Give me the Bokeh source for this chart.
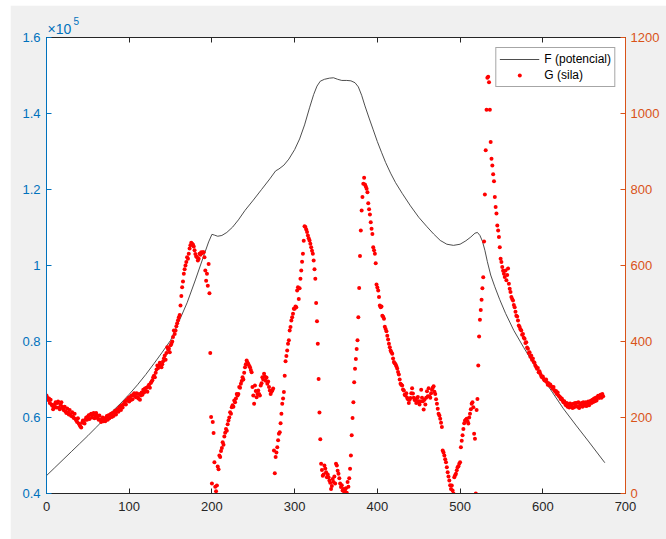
from bokeh.plotting import figure
from bokeh.models import (Range1d, LinearAxis, FixedTicker, CustomJSTickFormatter,
                          Title, Legend, LegendItem)
from bokeh.embed import file_html
from bokeh.resources import INLINE

# ---- data -------------------------------------------------------------
# F (potencial), sampled along the path; values in units of 1e5
f_x = [0, 10, 20, 30, 40, 50, 60, 70, 80, 90, 100, 110, 120, 130, 140, 150,
       160, 170, 180, 190, 196, 200, 203, 207, 212, 218, 225, 232, 240, 250,
       260, 270, 277, 281, 287, 293, 300, 306, 312, 318, 323, 327, 331, 336,
       342, 347, 352, 357, 363, 368, 373, 377, 381, 385, 390, 395, 400, 405,
       410, 416, 422, 430, 440, 450, 460, 468, 476, 484, 492, 500, 507, 513,
       518, 521, 524, 527, 530, 533, 537, 542, 548, 555, 565, 577, 589, 600,
       612, 625, 640, 655, 675]
f_potencial = [0.447, 0.468, 0.489, 0.510, 0.531, 0.552, 0.574, 0.596, 0.617,
               0.638, 0.661, 0.686, 0.713, 0.742, 0.772, 0.803, 0.852, 0.902,
               0.962, 1.025, 1.062, 1.082, 1.080, 1.077, 1.079, 1.087, 1.101,
               1.120, 1.145, 1.172, 1.200, 1.228, 1.249, 1.254, 1.264, 1.280,
               1.305, 1.333, 1.370, 1.415, 1.450, 1.472, 1.485, 1.490, 1.493,
               1.494, 1.490, 1.487, 1.487, 1.486, 1.481, 1.470, 1.448, 1.420,
               1.388, 1.357, 1.326, 1.298, 1.271, 1.243, 1.218, 1.190, 1.157,
               1.127, 1.102, 1.083, 1.066, 1.056, 1.053, 1.056, 1.065, 1.075,
               1.085, 1.087, 1.079, 1.064, 1.040, 1.010, 0.975, 0.944, 0.910,
               0.874, 0.829, 0.784, 0.741, 0.704, 0.665, 0.623, 0.580, 0.538,
               0.481]

# G (sila), one sample per step
g_sila = [
    258, 252, 246, 250, 238, 247, 234, 231, 222, 226,
    234, 240, 226, 238, 242, 226, 222, 234, 240, 228,
    224, 219, 228, 216, 212, 224, 214, 208, 220, 207,
    204, 214, 202, 199, 210, 196, 192, 188, 198, 184,
    180, 176, 174, 186, 192, 187, 184, 194, 200, 194,
    202, 206, 196, 207, 210, 200, 208, 212, 198, 204,
    212, 206, 198, 194, 205, 195, 188, 196, 200, 190,
    196, 190, 200, 204, 194, 206, 198, 207, 210, 201,
    212, 204, 214, 218, 208, 216, 222, 215, 226, 228,
    220, 232, 226, 234, 238, 242, 234, 246, 244, 251,
    242, 254, 246, 258, 248, 260, 264, 256, 253, 264,
    254, 250, 262, 247, 258, 266, 260, 273, 266, 276,
    270, 278, 268, 282, 286, 278, 291, 294, 298, 306,
    310, 306, 318, 326, 337, 330, 337, 344, 340, 332,
    340, 348, 356, 363, 352, 370, 385, 378, 381, 372,
    390, 394, 400, 412, 429, 420, 429, 440, 448, 456,
    464, 470, 495, 520, 543, 558, 578, 590, 600, 609,
    622, 618, 631, 645, 653, 660, 657, 655, 650, 640,
    630, 624, 622, 613, 618, 631, 628, 635, 632, 635,
    635, 622, 587, 560, 578, 547, 604, 527, 370, 201,
    26, 188, 159, 82, 18, 6, 21, 71, 64, 100,
    96, 112, 120, 135, 128, 150, 160, 170, 165, 182,
    192, 200, 214, 210, 227, 232, 228, 245, 240, 250,
    262, 258, 262, 280, 278, 289, 296, 306, 300, 318,
    332, 340, 350, 345, 341, 336, 332, 325, 319, 280,
    258, 236, 284, 270, 253, 262, 271, 262, 258, 284,
    290, 306, 300, 315, 308, 297, 305, 289, 295, 280,
    271, 262, 268, 271, 276, 113, 53, 96, 108, 122,
    140, 157, 161, 185, 210, 236, 250, 267, 310, 348,
    362, 376, 394, 403, 429, 438, 455, 464, 473, 486,
    486, 492, 490, 534, 543, 512, 540, 565, 587, 610,
    631, 665, 703, 701, 695, 688, 679, 672, 666, 657,
    648, 639, 631, 613, 590, 565, 501, 453, 394, 301,
    213, 143, 78, 62, 47, 50, 74, 66, 56, 43,
    50, 43, 34, 28, 12, 20, 38, 30, 45, 26,
    78, 74, 60, 52, 40, 26, 17, 22, 8, 12,
    4, 6, 14, 2, 30, 18, 40, 65, 100, 153,
    199, 240, 293, 328, 354, 380, 403, 464, 541, 625,
    692, 745, 780, 815, 831, 813, 808, 802, 793, 764,
    748, 734, 714, 697, 683, 648, 640, 631, 606, 550,
    542, 534, 517, 495, 490, 492, 468, 465, 460, 439,
    433, 427, 415, 405, 394, 385, 376, 372, 368, 355,
    346, 343, 340, 335, 329, 320, 313, 300, 289, 286,
    284, 274, 271, 260, 258, 264, 252, 248, 238, 247,
    251, 264, 277, 263, 252, 246, 247, 238, 251, 254,
    243, 234, 242, 273, 252, 243, 221, 247, 234, 252,
    269, 256, 277, 256, 252, 264, 273, 278, 282, 268,
    262, 248, 236, 223, 210, 205, 197, 186, 175, 113,
    108, 100, 90, 82, 69, 56, 45, 34, 22, 12,
    21, 8, 0, 43, 48, 52, 61, 69, 72, 78,
    82, 122, 139, 153, 170, 185, 192, 194, 197, 190,
    184, 200, 210, 222, 236, 240, 227, 157, 144, 0,
    220, 249, 337, 413, 457, 483, 510, 540, 569, 663,
    787, 903, 1010, 1094, 1097, 1082, 1010, 925, 881, 863,
    840, 822, 780, 754, 737, 705, 692, 675, 648, 618,
    609, 596, 586, 578, 570, 587, 561, 575, 592, 552,
    539, 530, 517, 512, 508, 496, 490, 478, 468, 466,
    455, 442, 438, 432, 429, 418, 420, 410, 407, 396,
    398, 384, 381, 370, 372, 360, 363, 352, 355, 346,
    344, 337, 333, 328, 330, 319, 322, 315, 310, 306,
    308, 302, 298, 297, 300, 293, 286, 290, 284, 287,
    282, 280, 276, 280, 272, 268, 270, 262, 266, 258,
    255, 253, 248, 250, 245, 240, 243, 236, 232, 238,
    228, 235, 226, 237, 229, 234, 225, 236, 227, 238,
    230, 238, 228, 240, 225, 233, 236, 238, 228, 240,
    234, 231, 240, 230, 238, 242, 232, 240, 244, 238,
    247, 241, 250, 243, 252, 245, 254, 257, 251, 258,
    260, 252, 262, 256,
]
g_x = list(range(len(g_sila)))

x_ticks = [0, 100, 200, 300, 400, 500, 600, 700]
f_ticks = [0.4, 0.6, 0.8, 1.0, 1.2, 1.4, 1.6]
g_ticks = [0, 200, 400, 600, 800, 1000, 1200]

# ---- styling ----------------------------------------------------------
BLUE = "#0072BD"
ORANGE = "#D95319"
DARK = "#262626"
FONT = "Liberation Sans"
FS = "13px"

p = figure(width=656, height=534, output_backend="svg", toolbar_location=None,
           x_range=Range1d(0, 700), y_range=Range1d(0.4, 1.6),
           min_border_left=36, min_border_right=41,
           min_border_top=32, min_border_bottom=46)
p.margin = (5, 0, 0, 10)
p.background_fill_color = "white"
p.border_fill_color = "#f0f0f0"
p.outline_line_color = DARK
p.outline_line_width = 1
p.xgrid.visible = False
p.ygrid.visible = False
p.extra_y_ranges = {"g": Range1d(0, 1200)}


def style_axis(ax, color, ticks, standoff):
    ax.ticker = FixedTicker(ticks=ticks)
    ax.axis_line_color = color
    ax.axis_line_width = 1
    ax.major_tick_line_color = color
    ax.major_tick_in = 5
    ax.major_tick_out = 0
    ax.minor_tick_line_color = None
    ax.major_label_text_color = color
    ax.major_label_text_font = FONT
    ax.major_label_text_font_size = FS
    ax.major_label_standoff = standoff


style_axis(p.xaxis[0], DARK, x_ticks, 8)
style_axis(p.yaxis[0], BLUE, f_ticks, 6)
p.yaxis[0].formatter = CustomJSTickFormatter(
    code="return (Math.round(tick * 10) / 10).toString();")

g_axis = LinearAxis(y_range_name="g")
style_axis(g_axis, ORANGE, g_ticks, 5)
p.add_layout(g_axis, "right")

# box edge along the top, ticks only
top_axis = LinearAxis()
style_axis(top_axis, DARK, x_ticks, 0)
top_axis.major_label_text_color = None
top_axis.major_label_text_font_size = "0px"
p.add_layout(top_axis, "above")

# exponent of the left axis: "×10" with a raised "5"
p.add_layout(Title(text="×10", align="left", offset=1, standoff=2,
                   text_font=FONT, text_font_size="14px",
                   text_font_style="normal", text_color=BLUE), "above")
p.add_layout(Title(text="5", align="left", offset=27, standoff=-14,
                   text_font=FONT, text_font_size="10px",
                   text_font_style="normal", text_color=BLUE), "above")

# ---- glyphs -----------------------------------------------------------
f_line = p.line(f_x, f_potencial, line_color="#3a3a3a", line_width=0.9)
g_dots = p.scatter(g_x, g_sila, y_range_name="g", size=4,
                   fill_color="#ff0000", line_color="#ff0000", line_width=0)

legend = Legend(items=[LegendItem(label="F (potencial)", renderers=[f_line]),
                       LegendItem(label="G (sila)", renderers=[g_dots])],
                location="top_right")
legend.label_text_font = FONT
legend.label_text_font_size = "12px"
legend.label_text_color = "black"
legend.glyph_width = 40
legend.glyph_height = 10
legend.label_height = 16
legend.label_standoff = 5
legend.padding = 3
legend.spacing = 0
legend.margin = 10
legend.border_line_color = "#4d4d4d"
legend.border_line_width = 1
legend.background_fill_color = "white"
legend.background_fill_alpha = 1
p.add_layout(legend)

open("out.html", "w").write(file_html(p, INLINE))
